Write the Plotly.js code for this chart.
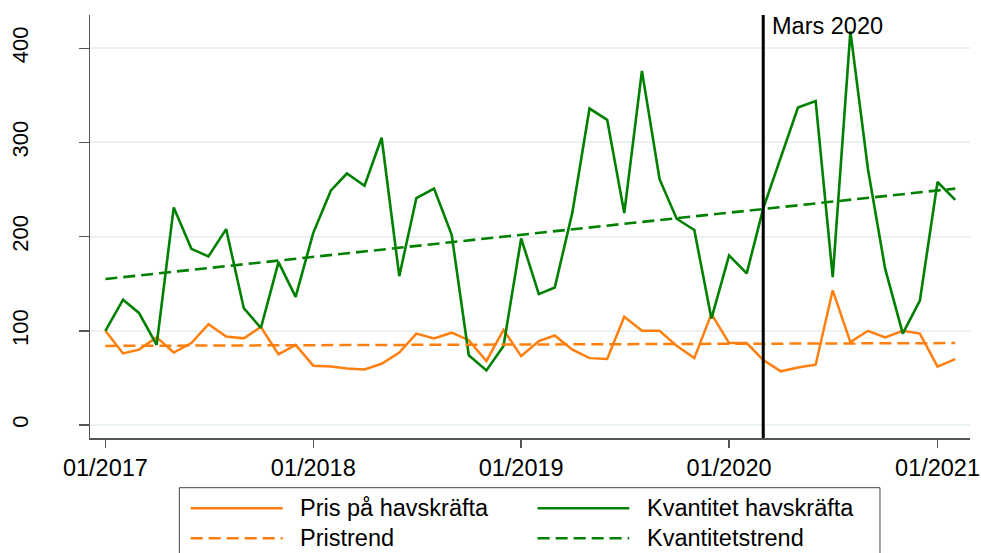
<!DOCTYPE html>
<html>
<head>
<meta charset="utf-8">
<script src="https://cdn.plot.ly/plotly-3.0.1.min.js"></script>
<style>
html,body{margin:0;padding:0;background:#fff;}
#chart{width:981px;height:553px;}
</style>
</head>
<body>
<div id="chart"></div>
<script>
var months = ['2017-01','2017-02','2017-03','2017-04','2017-05','2017-06','2017-07','2017-08','2017-09','2017-10','2017-11','2017-12',
              '2018-01','2018-02','2018-03','2018-04','2018-05','2018-06','2018-07','2018-08','2018-09','2018-10','2018-11','2018-12',
              '2019-01','2019-02','2019-03','2019-04','2019-05','2019-06','2019-07','2019-08','2019-09','2019-10','2019-11','2019-12',
              '2020-01','2020-02','2020-03','2020-04','2020-05','2020-06','2020-07','2020-08','2020-09','2020-10','2020-11','2020-12',
              '2021-01','2021-02'];
var quantity = [100,133,119,85,231,187,179,208,124,103,173,136,
                204,249,267,254,305,158,241,251,202,74,58,84,
                198,139,146,226,336,324,225,376,261,219,207,113,
                180,161,230,284,337,344,157,418,271,166,97,132,
                258,239];
var price = [100,76,80,93,77,87,107,94,92,104,75,85,
             63,62,60,59,65,77,97,92,98,90,68,101,
             73,89,95,80,71,70,115,100,100,84,71,118,
             87,87,69,57,61,64,143,88,100,93,100,97,
             62,70];
var trendMonths = ['2017-01','2021-02'];
var quantityTrend = [155,251];
var priceTrend = [84,87];
var eventMonth = '2020-03';
var eventLabel = 'Mars 2020';
var seriesNames = ['Pris på havskräfta','Kvantitet havskräfta','Pristrend','Kvantitetstrend'];
var yTicks = [0,100,200,300,400];

var ORANGE = '#ff7f0e', GREEN = '#008000', AX = '#555555';
var FONT = 'Liberation Sans, Arial, Helvetica, sans-serif';
var TXT = 23.5;

var traces = [
  {x: months, y: price, name: seriesNames[0], type:'scatter', mode:'lines', line:{color:ORANGE, width:2.5}},
  {x: months, y: quantity, name: seriesNames[1], type:'scatter', mode:'lines', line:{color:GREEN, width:2.6}},
  {x: trendMonths, y: priceTrend, name: seriesNames[2], type:'scatter', mode:'lines', line:{color:ORANGE, width:2.5, dash:'12px,6px'}},
  {x: trendMonths, y: quantityTrend, name: seriesNames[3], type:'scatter', mode:'lines', line:{color:GREEN, width:2.6, dash:'12px,6px'}}
];

// custom legend (paper coords)
var legRows = [-0.1662, -0.2371];
var legLineX = [[0.1144,0.2190],[0.5087,0.6128]];
var legTextX = [0.2367, 0.6307];
var legItems = [
  {name: seriesNames[0], color: ORANGE, dash:'solid', col:0, row:0},
  {name: seriesNames[1], color: GREEN, dash:'solid', col:1, row:0},
  {name: seriesNames[2], color: ORANGE, dash:'12px,6px', col:0, row:1},
  {name: seriesNames[3], color: GREEN, dash:'12px,6px', col:1, row:1}
];

var shapes = [
  {type:'line', xref:'x', yref:'paper', x0:eventMonth, x1:eventMonth, y0:0, y1:1, line:{color:'#000', width:3}},
  {type:'rect', xref:'paper', yref:'paper', x0:0.1015, x1:0.8977, y0:-0.1175, y1:-0.31, line:{color:'#444', width:1}, fillcolor:'rgba(0,0,0,0)'}
];
var annotations = [
  {x:eventMonth, xref:'x', y:0.974, yref:'paper', text:eventLabel, showarrow:false, xanchor:'left', yanchor:'middle', xshift:7, font:{family:FONT, size:TXT, color:'#000'}}
];
legItems.forEach(function(it){
  shapes.push({type:'line', xref:'paper', yref:'paper', x0:legLineX[it.col][0], x1:legLineX[it.col][1], y0:legRows[it.row], y1:legRows[it.row], line:{color:it.color, width:2.5, dash:it.dash}});
  annotations.push({x:legTextX[it.col], xref:'paper', y:legRows[it.row], yref:'paper', text:it.name, showarrow:false, xanchor:'left', yanchor:'middle', font:{family:FONT, size:TXT, color:'#000'}});
});

var layout = {
  width:981, height:553,
  margin:{l:90, r:11, t:15, b:115, pad:0},
  paper_bgcolor:'#fff', plot_bgcolor:'#fff',
  showlegend:false,
  font:{family:FONT, color:'#000'},
  xaxis:{
    type:'date',
    range:['2016-12-05','2021-02-27'],
    tick0:'2017-01-01', dtick:'M12', tickformat:'%m/%Y',
    showgrid:false, zeroline:false,
    showline:true, linecolor:AX, linewidth:1.5,
    ticks:'outside', ticklen:8, tickcolor:AX, tickwidth:1.5,
    tickfont:{family:FONT, size:TXT, color:'#000'}
  },
  yaxis:{
    range:[-13.8, 435.3],
    tickvals:yTicks, ticktext:yTicks.map(String),
    tickangle:-90,
    showgrid:true, gridcolor:'#eaf1f3', gridwidth:2,
    zeroline:false,
    showline:true, linecolor:AX, linewidth:1.5,
    ticks:'outside', ticklen:10, tickcolor:AX, tickwidth:1.5,
    ticklabelstandoff:42,
    tickfont:{family:FONT, size:22, color:'#000'}
  },
  shapes:shapes,
  annotations:annotations
};

Plotly.newPlot('chart', traces, layout, {displayModeBar:false, staticPlot:true});
</script>
</body>
</html>
